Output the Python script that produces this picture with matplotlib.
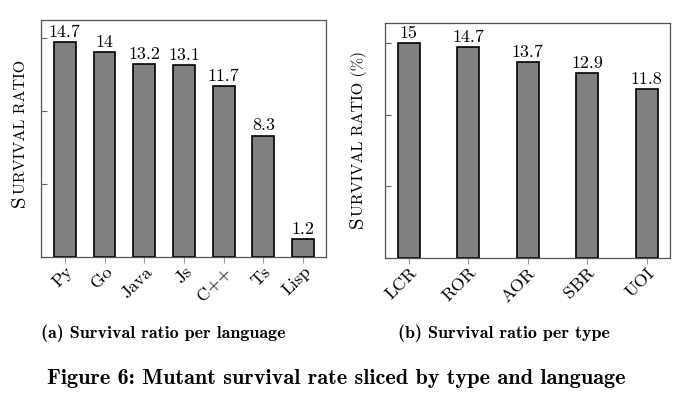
import numpy as np
import matplotlib
matplotlib.use("Agg")
import matplotlib.pyplot as plt

# data
languages = ["Py", "Go", "Java", "Js", "C++", "Ts", "Lisp"]
lang_ratio = [14.7, 14, 13.2, 13.1, 11.7, 8.3, 1.2]
lang_labels = ["14.7", "14", "13.2", "13.1", "11.7", "8.3", "1.2"]

types = ["LCR", "ROR", "AOR", "SBR", "UOI"]
type_ratio = [15, 14.7, 13.7, 12.9, 11.8]
type_labels = ["15", "14.7", "13.7", "12.9", "11.8"]

yticks = [0, 5, 10, 15]

plt.rcParams['font.family'] = ['cmr10']
plt.rcParams['mathtext.fontset'] = 'cm'
plt.rcParams['axes.formatter.use_mathtext'] = True

fig = plt.figure(figsize=(6.8, 3.96), dpi=100)
W, H = 680.0, 396.0

def box(x0, y0, x1, y1):
    return [x0 / W, 1 - y1 / H, (x1 - x0) / W, (y1 - y0) / H]

def style(ax):
    for s in ax.spines.values():
        s.set_color('#555555')
        s.set_linewidth(0.9)
    ax.set_yticks(yticks)
    ax.set_yticklabels([])
    ax.tick_params(axis='y', direction='in', length=4, color='#666666')
    ax.tick_params(axis='x', direction='out', length=4, color='#999999',
                   labelsize=13, pad=1)

def bars(ax, names, vals, labels, width):
    x = np.arange(len(names))
    ax.bar(x, vals, width=width, color='#808080', edgecolor='black', linewidth=1.2)
    for xi, v, t in zip(x, vals, labels):
        ax.annotate(t, (xi, v), xytext=(0, 1.5), textcoords='offset points',
                    ha='center', va='bottom', fontsize=13)
    ax.set_xticks(x)
    ax.set_xticklabels(names, rotation=45, ha='right', rotation_mode='anchor')

def smallcaps_ylabel(x_px, y_px, big, small):
    # fake small caps: big first letter, rest smaller, same baseline
    t1 = fig.text(x_px / W, 1 - y_px / H, big, rotation=90, fontsize=15,
                  ha='left', va='baseline', rotation_mode='anchor')
    fig.canvas.draw()
    bb = t1.get_window_extent()
    fig.text(x_px / W, (bb.y1 + 1) / H, small, rotation=90, fontsize=11.5,
             ha='left', va='baseline', rotation_mode='anchor')

ax1 = fig.add_axes(box(41, 20, 326, 257))
bars(ax1, languages, lang_ratio, lang_labels, 0.55)
ax1.set_xlim(-0.6, 6.58)
ax1.set_ylim(0, 16.2)
style(ax1)

ax2 = fig.add_axes(box(385, 23, 670, 258))
bars(ax2, types, type_ratio, type_labels, 0.365)
ax2.set_xlim(-0.4, 4.39)
ax2.set_ylim(0, 16.4)
style(ax2)

smallcaps_ylabel(25, 207, "S", "URVIVAL RATIO")
smallcaps_ylabel(363, 228, "S", "URVIVAL RATIO (%)")

fig.text(163 / W, 1 - 333 / H, "(a) Survival ratio per language", fontfamily='cmb10',
         fontsize=13, ha='center', va='center')
fig.text(504 / W, 1 - 333 / H, "(b) Survival ratio per type", fontfamily='cmb10',
         fontsize=13, ha='center', va='center')
fig.text(336 / W, 1 - 378 / H, "Figure 6: Mutant survival rate sliced by type and language",
         fontfamily='cmb10', fontsize=16, ha='center', va='center')

fig.savefig("out.png", dpi=100)
